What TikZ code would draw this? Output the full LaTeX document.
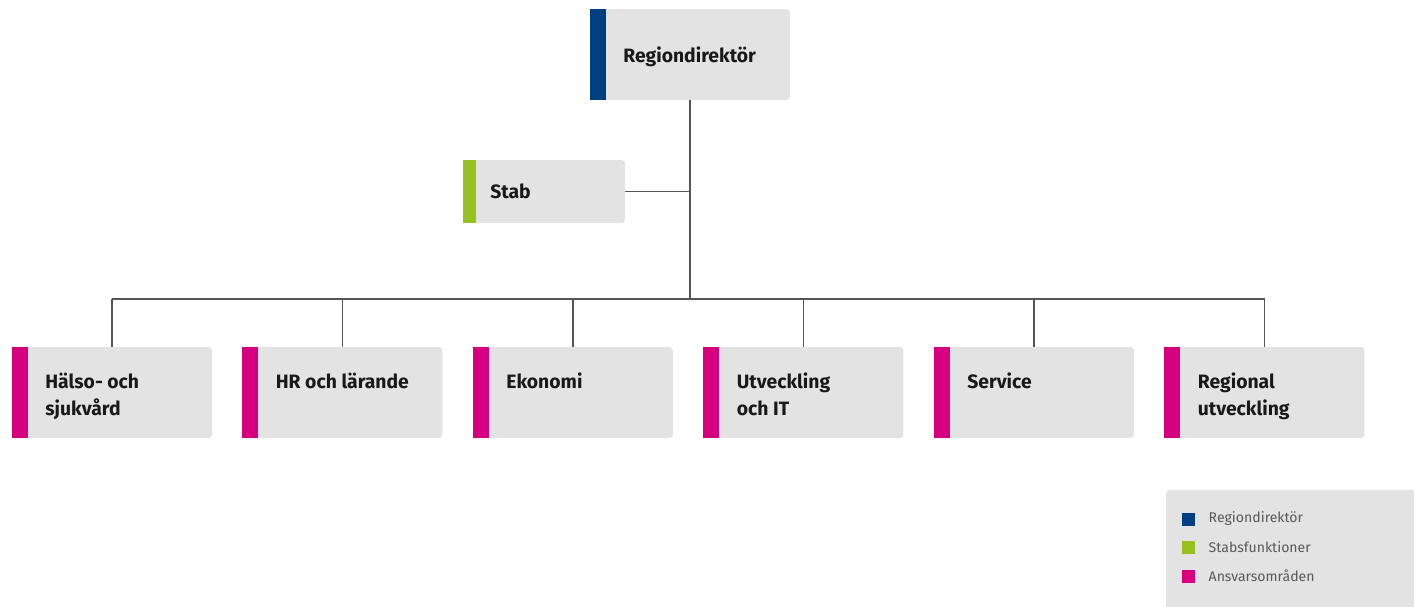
\documentclass[tikz,border=0pt]{standalone}
\usepackage{fontspec}
\setmainfont{Fira Sans}
\usetikzlibrary{positioning}
\definecolor{rdblue}{RGB}{0,63,130}
\definecolor{stabgreen}{RGB}{150,193,30}
\definecolor{ansvar}{RGB}{214,0,126}
\definecolor{boxgray}{RGB}{227,227,227}
\definecolor{linegray}{RGB}{85,85,85}
\tikzset{
  box/.style={fill=boxgray, rounded corners=2pt, inner sep=0pt, minimum width=4cm, minimum height=1.82cm},
  boxtext/.style={font=\bfseries\fontsize{11}{15.4}\selectfont, text=black!90, align=left, inner sep=0pt},
  conn/.style={draw=linegray, line width=0.7pt},
  legsq/.style={inner sep=0pt, minimum size=0.26cm},
  legtext/.style={font=\fontsize{8}{10}\selectfont, text=black!65, inner sep=0pt}
}

\begin{document}
\begin{tikzpicture}[x=0.02cm, y=-0.02cm]
	\useasboundingbox (0,0) rectangle (1414,606);

	% top
	\node[box] (rd) at (690,54.5) {};
	\fill[rdblue] (rd.north west) rectangle ([xshift=0.32cm]rd.south west);
	\node[boxtext, anchor=base west] (rdtext) at (623,62.5) {Regiondirektör};

	% stab
	\node[box, minimum width=3.24cm, minimum height=1.26cm] (stab) at (544,191.5) {};
	\fill[stabgreen] (stab.north west) rectangle ([xshift=0.26cm]stab.south west);
	\node[boxtext, anchor=base west] (stabtext) at (490,198.5) {Stab};

	% areas
	\node[box] (hs) at (112,392.5) {};
	\node[box] (hr) at (342.5,392.5) {};
	\node[box] (ek) at (573,392.5) {};
	\node[box] (uit) at (803.5,392.5) {};
	\node[box] (se) at (1034,392.5) {};
	\node[box] (ru) at (1264.5,392.5) {};
	\foreach \n in {hs,hr,ek,uit,se,ru}
		\fill[ansvar] (\n.north west) rectangle ([xshift=0.32cm]\n.south west);

	\node[boxtext, anchor=north west] (hstext) at (45,369) {\strut Hälso- och\\\strut sjukvård};
	\node[boxtext, anchor=north west] (hrtext) at (275.5,369) {\strut HR och lärande};
	\node[boxtext, anchor=north west] (ektext) at (506,369) {\strut Ekonomi};
	\node[boxtext, anchor=north west] (uittext) at (736.5,369) {\strut Utveckling\\\strut och IT};
	\node[boxtext, anchor=north west] (setext) at (967,369) {\strut Service};
	\node[boxtext, anchor=north west] (rutext) at (1197.5,369) {\strut Regional\\\strut utveckling};

	% lines
	\coordinate (bus) at (690,299);
	\draw[conn] (rd.south) -- (bus);
	\draw[conn] (stab.east) -- (stab.east -| rd.south);
	\draw[conn] (hs.north |- bus) -- (ru.north |- bus);
	\foreach \n in {hs,hr,ek,uit,se,ru}
		\draw[conn] (\n.north) -- (\n.north |- bus);

	% legend
	\node[fill=boxgray, rounded corners=2pt, minimum width=5.08cm, minimum height=2.44cm, inner sep=0pt] (legend) at (1293,551) {};
	\node[legsq, fill=rdblue] (l1) at (1188.5,519) {};
	\node[legsq, fill=stabgreen] (l2) at (1188.5,547) {};
	\node[legsq, fill=ansvar] (l3) at (1188.5,576) {};
	\node[legtext, right=0.26cm of l1] (l1text) {Regiondirektör};
	\node[legtext, right=0.26cm of l2] (l2text) {Stabsfunktioner};
	\node[legtext, right=0.26cm of l3] (l3text) {Ansvarsområden};
\end{tikzpicture}
\end{document}
